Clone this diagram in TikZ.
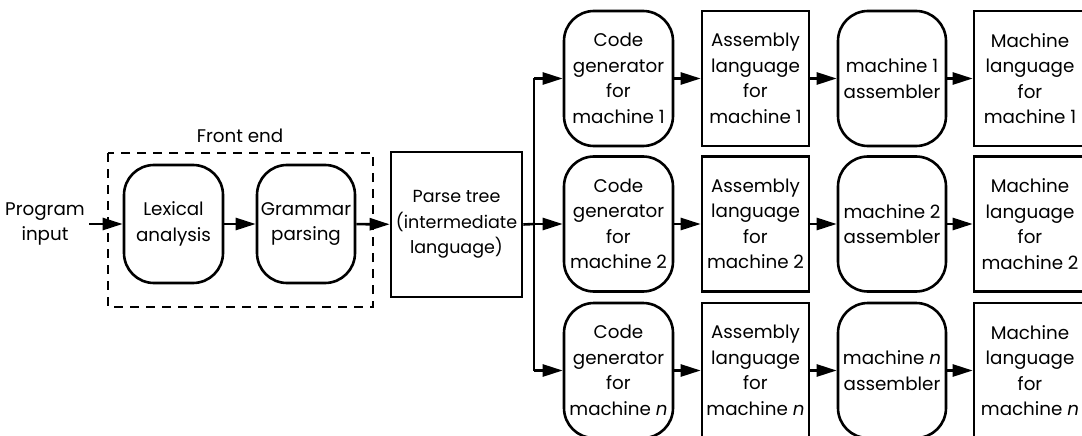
\documentclass[tikz,border=0pt]{standalone}
\usepackage{fontspec}
\setmainfont{Poppins}
\usetikzlibrary{arrows.meta}
\begin{document}
\begin{tikzpicture}[x=1pt,y=-1pt,
  every node/.style={font=\fontsize{18.3}{25.5}\selectfont, align=center, inner sep=0pt},
  rbox/.style={draw, line width=2.6pt, rounded corners=30pt, minimum width=#1, minimum height=135pt},
  sbox/.style={draw, line width=2.6pt, minimum width=#1, minimum height=135pt},
  arr/.style={line width=2.6pt, -{Triangle[length=20pt,width=12pt]}},
  ln/.style={line width=2.6pt}
]
\useasboundingbox (0,0) rectangle (1082,436);
\clip (0,0) rectangle (1082,436);
% front end
\draw[line width=2.3pt, dash pattern=on 9pt off 7pt] (108,153) rectangle (373,307);
\node (fe) at (240,136) {Front end};
\node (in) at (45,224) {Program\\input};
\node[rbox=99pt, minimum height=118pt] (lex) at (173.5,224) {Lexical\\analysis};
\node[rbox=98pt, minimum height=118pt] (gram) at (306,224) {Grammar\\parsing};
\node[sbox=131pt, minimum height=145pt, font=\fontsize{17.5}{25.5}\selectfont] (pt) at (456.5,224.5) {Parse tree\\(intermediate\\language)};
\coordinate (inr) at (89,224);
\draw[arr] (inr) -- (lex.west);
\draw[arr] (lex) -- (gram);
\draw[arr] (gram) -- (pt);
\coordinate (br) at (534,224);
\draw[ln] (pt.east) -- (br);
% rows
\foreach \i/\y/\m in {1/78.5/1, 2/224/2, 3/370.5/\textit{n}}{
  \node[rbox=109pt] (cg\i) at (618.5,\y) {Code\\generator\\for\\machine \m};
  \node[sbox=107pt] (al\i) at (755.5,\y) {Assembly\\language\\for\\machine \m};
  \node[rbox=108pt] (as\i) at (892,\y) {machine \m\\assembler};
  \node[sbox=112pt] (ml\i) at (1030,\y) {Machine\\language\\for\\machine \m};
  \coordinate (b\i) at (534,\y);
  \draw[arr] (b\i) -- (cg\i.west);
  \draw[arr] (cg\i) -- (al\i);
  \draw[arr] (al\i) -- (as\i);
  \draw[arr] (as\i) -- (ml\i);
}
\draw[ln] (b1) -- (b3);
\end{tikzpicture}
\end{document}
